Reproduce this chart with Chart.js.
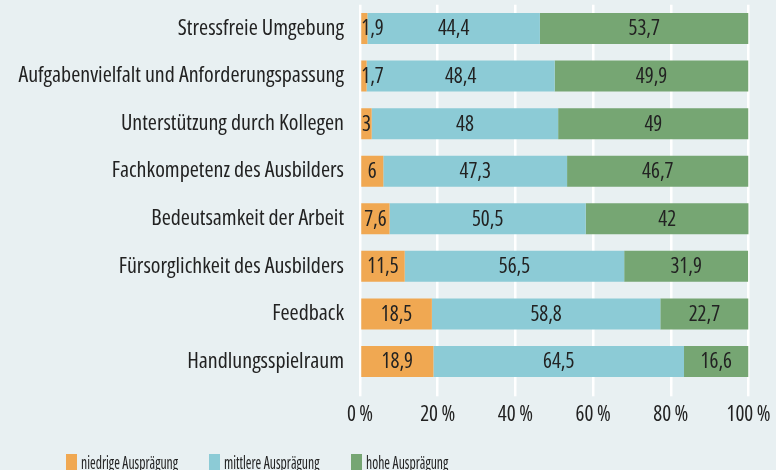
<!DOCTYPE html>
<html>
<head>
<meta charset="utf-8">
<script src="https://cdn.jsdelivr.net/npm/chart.js@4/dist/chart.umd.min.js"></script>
<style>
  html, body { margin: 0; padding: 0; background: #e8f0f2; }
  #wrap { position: relative; width: 776px; height: 470px; overflow: hidden; }
  #legend { position: absolute; left: 0; top: 454px; width: 776px; height: 20px;
            font-family: "Open Sans", sans-serif; font-stretch: condensed; font-size: 18.5px; color: #222; }
  #legend .item { position: absolute; top: 0; white-space: nowrap; }
  #legend .box { position: absolute; left: 0; top: 0; width: 11px; height: 17px; }
  #legend .txt { position: absolute; left: 15px; top: -5px; transform: scaleX(0.74); transform-origin: left top; }
</style>
</head>
<body>
<div id="wrap">
  <canvas id="chart" width="776" height="470"></canvas>
  <div id="legend"></div>
</div>
<script>
const FAMILY = '"Open Sans", sans-serif';

const categories = [
    'Stressfreie Umgebung',
    'Aufgabenvielfalt und Anforderungspassung',
    'Unterstützung durch Kollegen',
    'Fachkompetenz des Ausbilders',
    'Bedeutsamkeit der Arbeit',
    'Fürsorglichkeit des Ausbilders',
    'Feedback',
    'Handlungsspielraum'
];
const niedrig = [1.9, 1.7, 3, 6, 7.6, 11.5, 18.5, 18.9];
const mittel = [44.4, 48.4, 48, 47.3, 50.5, 56.5, 58.8, 64.5];
const hoch = [53.7, 49.9, 49, 46.7, 42, 31.9, 22.7, 16.6];
const seriesNames = ['niedrige Ausprägung', 'mittlere Ausprägung', 'hohe Ausprägung'];
const seriesColors = ['#f0a852', '#8ccbd6', '#76a673'];
const xTicks = [0, 20, 40, 60, 80, 100];
const legendLeft = [66, 209, 351];

// Werte in die Balken schreiben
const barLabels = {
    id: 'barLabels',
    afterDatasetsDraw(chart) {
        const c = chart.ctx;
        c.save();
        c.font = 'condensed 21px ' + FAMILY;
        c.fillStyle = '#222';
        c.textBaseline = 'middle';
        c.textAlign = 'center';
        chart.data.datasets.forEach((ds, i) => {
            chart.getDatasetMeta(i).data.forEach((bar, j) => {
                const txt = String(ds.data[j]).replace('.', ',');
                const w = c.measureText(txt).width;
                let x = (bar.x + bar.base) / 2;
                if (x - w / 2 < bar.base) x = bar.base + w / 2;
                c.fillText(txt, x, bar.y + 1);
            });
        });
        c.restore();
    }
};

new Chart(document.getElementById('chart'), {
    type: 'bar',
    data: {
        labels: categories,
        datasets: [niedrig, mittel, hoch].map((d, i) => ({
            label: seriesNames[i],
            data: d,
            backgroundColor: seriesColors[i],
            barPercentage: 0.652,
            categoryPercentage: 1
        }))
    },
    options: {
        indexAxis: 'y',
        responsive: false,
        animation: false,
        layout: { padding: { top: 4.7, right: 27.5, bottom: 44.7, left: 0 } },
        plugins: { legend: { display: false }, tooltip: { enabled: false } },
        scales: {
            x: {
                stacked: true,
                min: 0,
                max: 100,
                afterBuildTicks(scale) { scale.ticks = xTicks.map(v => ({ value: v })); },
                afterFit(scale) { scale.height = 40; scale.paddingLeft = 0; scale.paddingRight = 0; },
                border: { display: false },
                grid: { color: '#ffffff', lineWidth: 2.5, tickLength: 11, drawTicks: true },
                ticks: {
                    color: '#222',
                    font: { family: FAMILY, size: 21, weight: 'condensed' },
                    padding: 6,
                    maxRotation: 0,
                    callback: v => v + '\u2009%'
                }
            },
            y: {
                stacked: true,
                afterFit(scale) { scale.width = 360; scale.paddingTop = 0; scale.paddingBottom = 0; },
                border: { display: false },
                grid: { display: false },
                ticks: {
                    color: '#222',
                    font: { family: FAMILY, size: 22, weight: 'condensed' },
                    padding: 8
                }
            }
        }
    },
    plugins: [barLabels]
});

// Legende
const legend = document.getElementById('legend');
seriesNames.forEach((name, i) => {
    const item = document.createElement('div');
    item.className = 'item';
    item.style.left = legendLeft[i] + 'px';
    item.innerHTML = '<span class="box" style="background:' + seriesColors[i] + '"></span>' +
        '<span class="txt">' + name + '</span>';
    legend.appendChild(item);
});
</script>
</body>
</html>
